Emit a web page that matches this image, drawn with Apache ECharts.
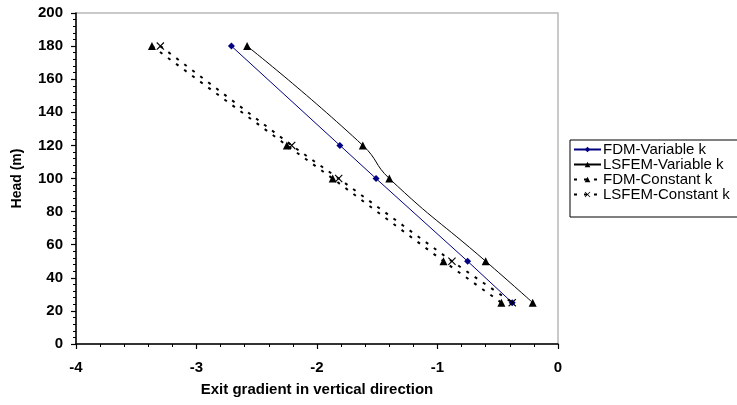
<!DOCTYPE html>
<html>
<head>
<meta charset="utf-8">
<script src="https://cdn.jsdelivr.net/npm/echarts@6/dist/echarts.min.js"></script>
<style>
html,body{margin:0;padding:0;background:#fff;}
#chart{width:737px;height:405px;}
</style>
</head>
<body>
<div id="chart"></div>
<script>
// Data
const heads = [180, 120, 100, 50, 25];
const fdmVariable = [-2.71, -1.81, -1.51, -0.75, -0.38];
const lsfemVariable = [-2.58, -1.62, -1.40, -0.60, -0.21];
const fdmConstant = [-3.37, -2.25, -1.87, -0.95, -0.47];
const lsfemConstant = [-3.30, -2.21, -1.82, -0.88, -0.38];
const seriesNames = ['FDM-Variable k', 'LSFEM-Variable k', 'FDM-Constant k', 'LSFEM-Constant k'];
const xTitle = 'Exit gradient in vertical direction';
const yTitle = 'Head (m)';

const pairs = (xs) => xs.map((x, i) => [x, heads[i]]);
const crossPath = 'path://M0,1L1,0L5,4L9,0L10,1L6,5L10,9L9,10L5,6L1,10L0,9L4,5Z';
const FONT = 'Liberation Sans, Arial, sans-serif';

const chart = echarts.init(document.getElementById('chart'), null, {renderer: 'canvas'});
chart.setOption({
  backgroundColor: '#fff',
  animation: false,
  textStyle: {fontFamily: FONT},
  grid: {
    left: 76, top: 13, width: 482, height: 331,
    show: true, borderColor: '#b8b8b8', borderWidth: 1.5, backgroundColor: '#fff'
  },
  legend: {
    orient: 'vertical',
    left: 570, top: 140,
    padding: [2, 20, 15, 3],
    itemGap: 0,
    itemWidth: 27, itemHeight: 7,
    borderColor: '#000', borderWidth: 1,
    backgroundColor: '#fff',
    textStyle: {fontFamily: FONT, fontSize: 15, color: '#000', lineHeight: 13, padding: [0,0,0,-3]},
    data: seriesNames
  },
  xAxis: {
    type: 'value', min: -4, max: 0, interval: 1,
    name: xTitle, nameLocation: 'middle', nameGap: 38,
    nameTextStyle: {fontFamily: FONT, fontSize: 15, fontWeight: 'bold', color: '#000'},
    axisLine: {show: true, onZero: false, lineStyle: {color: '#000', width: 1.5}},
    axisTick: {show: true, length: 5, lineStyle: {color: '#000', width: 1.2}},
    minorTick: {show: true, splitNumber: 5, length: 3, lineStyle: {color: '#000', width: 1}},
    splitLine: {show: false},
    axisLabel: {fontFamily: FONT, fontSize: 15, fontWeight: 'bold', color: '#000', margin: 16}
  },
  yAxis: {
    type: 'value', min: 0, max: 200, interval: 20,
    name: yTitle, nameLocation: 'middle', nameGap: 52, nameRotate: 90,
    nameTextStyle: {fontFamily: FONT, fontSize: 14, fontWeight: 'bold', color: '#000'},
    axisLine: {show: true, onZero: false, lineStyle: {color: '#000', width: 1.5}},
    axisTick: {show: true, length: 5, lineStyle: {color: '#000', width: 1.2}},
    minorTick: {show: true, splitNumber: 5, length: 3, lineStyle: {color: '#000', width: 1}},
    splitLine: {show: false},
    axisLabel: {fontFamily: FONT, fontSize: 15, fontWeight: 'bold', color: '#000', margin: 13}
  },
  series: [
    {
      name: seriesNames[0], type: 'line', data: pairs(fdmVariable),
      symbol: 'diamond', symbolSize: 7,
      itemStyle: {color: '#000080'},
      lineStyle: {color: '#000080', width: 1}
    },
    {
      name: seriesNames[1], type: 'line', data: pairs(lsfemVariable),
      symbol: 'triangle', symbolSize: 8, smooth: 0.5,
      itemStyle: {color: '#000'},
      lineStyle: {color: '#000', width: 1}
    },
    {
      name: seriesNames[2], type: 'line', data: pairs(fdmConstant),
      symbol: 'triangle', symbolSize: 8,
      itemStyle: {color: '#000'},
      lineStyle: {color: '#000', width: 2, type: [3, 7]}
    },
    {
      name: seriesNames[3], type: 'line', data: pairs(lsfemConstant),
      symbol: crossPath, symbolSize: 8,
      itemStyle: {color: '#000'},
      lineStyle: {color: '#000', width: 2, type: [3, 7]}
    }
  ]
});
</script>
</body>
</html>
